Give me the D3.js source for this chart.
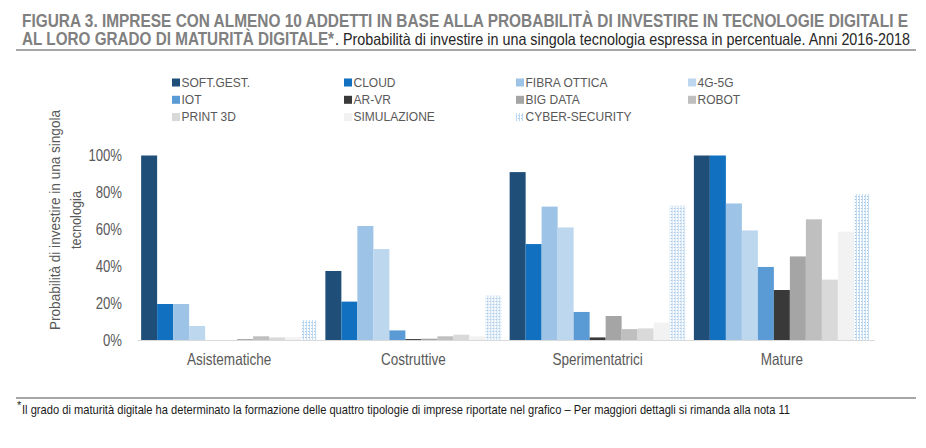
<!DOCTYPE html>
<html><head><meta charset="utf-8">
<script src="https://cdn.jsdelivr.net/npm/d3@7"></script>
<style>
html,body{margin:0;padding:0;background:#fff;}
svg{display:block;}
text{font-family:"Liberation Sans",Arial,sans-serif;}
</style></head>
<body>
<svg id="chart" width="926" height="448"></svg>
<script>
const categories = ["Asistematiche", "Costruttive", "Sperimentatrici", "Mature"];
const seriesNames = ["SOFT.GEST.", "CLOUD", "FIBRA OTTICA", "4G-5G", "IOT", "AR-VR", "BIG DATA", "ROBOT", "PRINT 3D", "SIMULAZIONE", "CYBER-SECURITY"];
const softGest    = [100, 37.4, 91, 100];
const cloud       = [19.5, 20.8, 52, 100];
const fibraOttica = [19.5, 61.8, 72.3, 74];
const g4g5        = [7.6, 49.3, 61, 59.4];
const iot         = [0, 5.2, 15.2, 39.6];
const arVr        = [0, 0.5, 1.4, 27.1];
const bigData     = [0.5, 0.7, 13, 45.3];
const robot       = [2, 2, 5.9, 65.4];
const print3d     = [1.4, 2.9, 6.3, 32.7];
const simulazione = [1.5, 2, 9.4, 58.7];
const cyberSec    = [10.8, 24, 72.8, 79.1];
const yTicks = [0, 20, 40, 60, 80, 100];

const seriesValues = [softGest, cloud, fibraOttica, g4g5, iot, arVr, bigData, robot, print3d, simulazione, cyberSec];
const colors = ["#1F4E79", "#1170BF", "#9DC3E6", "#BDD7EE", "#5B9BD5", "#393939", "#A5A5A5", "#BFBFBF", "#D9D9D9", "#F2F2F2", "url(#dots)"];

const svg = d3.select("#chart");
const defs = svg.append("defs");
const pat = defs.append("pattern").attr("id", "dots").attr("patternUnits", "userSpaceOnUse")
  .attr("width", 3).attr("height", 3);
pat.append("rect").attr("width", 3).attr("height", 3).attr("fill", "#fff");
pat.append("rect").attr("width", 1).attr("height", 3).attr("fill", "#BDD7EE");
pat.append("rect").attr("x", 2).attr("y", 1).attr("width", 1).attr("height", 1).attr("fill", "#9DC3E6");

const NARROW = 0.82;
function condense(sel, ratio) {
  sel.each(function () {
    const w = this.getComputedTextLength();
    d3.select(this).attr("textLength", w * ratio).attr("lengthAdjust", "spacingAndGlyphs");
  });
}

// Title
svg.append("text").attr("x", 22).attr("y", 27).attr("font-size", 17.5).attr("font-weight", "bold")
  .attr("fill", "#808080").attr("textLength", 886).attr("lengthAdjust", "spacingAndGlyphs")
  .text("FIGURA 3. IMPRESE CON ALMENO 10 ADDETTI IN BASE ALLA PROBABILITÀ DI INVESTIRE IN TECNOLOGIE DIGITALI E");
svg.append("text").attr("x", 22).attr("y", 44.5).attr("font-size", 17.5).attr("font-weight", "bold")
  .attr("fill", "#808080").attr("textLength", 312).attr("lengthAdjust", "spacingAndGlyphs")
  .text("AL LORO GRADO DI MATURITÀ DIGITALE*");
svg.append("text").attr("x", 335).attr("y", 44.5).attr("font-size", 16.5)
  .attr("fill", "#262626").attr("textLength", 575).attr("lengthAdjust", "spacingAndGlyphs")
  .text(". Probabilità di investire in una singola tecnologia espressa in percentuale. Anni 2016-2018");
svg.append("line").attr("x1", 16).attr("x2", 916).attr("y1", 50).attr("y2", 50)
  .attr("stroke", "#a6a6a6").attr("stroke-width", 2);

// Legend
const legend = svg.append("g");
seriesNames.forEach((name, i) => {
  const col = i % 4, row = Math.floor(i / 4);
  const gx = 172 + col * 172, gy = 82.5 + row * 17.3;
  const g = legend.append("g").attr("transform", `translate(${gx},${gy})`);
  g.append("rect").attr("x", 0).attr("y", -4).attr("width", 8).attr("height", 8).attr("fill", colors[i]);
  g.append("text").attr("x", 9.5).attr("y", 4.3).attr("font-size", 12).attr("fill", "#595959").text(name);
});

// Scales
const x0 = d3.scaleBand().domain(categories).range([137, 874]).paddingInner(0.0448).paddingOuter(0.0224);
const x1 = d3.scaleBand().domain(seriesNames).range([0, x0.bandwidth()]);
const y = d3.scaleLinear().domain([0, 100]).range([340, 155.5]);

// Bars
const groups = svg.append("g").selectAll("g").data(categories).join("g")
  .attr("transform", d => `translate(${x0(d)},0)`);
groups.selectAll("rect")
  .data((c, ci) => seriesNames.map((s, si) => ({ s, si, v: seriesValues[si][ci] })))
  .join("rect")
  .attr("x", d => x1(d.s))
  .attr("width", x1.bandwidth())
  .attr("y", d => y(d.v))
  .attr("height", d => y(0) - y(d.v))
  .attr("fill", d => colors[d.si]);

// Y axis
const yAxis = svg.append("g").attr("transform", "translate(137,0)")
  .call(d3.axisLeft(y).tickValues(yTicks).tickFormat(d => d + "%").tickSize(0).tickPadding(15));
yAxis.select(".domain").remove();
yAxis.selectAll("text").attr("font-size", 16).attr("fill", "#595959")
  .attr("font-family", "'Liberation Sans',Arial,sans-serif").call(condense, NARROW);

// X axis
const xAxis = svg.append("g").attr("transform", "translate(0,340)")
  .call(d3.axisBottom(x0).tickSize(0).tickPadding(13));
xAxis.select(".domain").attr("stroke", "#d9d9d9").attr("stroke-width", 1.2);
xAxis.selectAll("text").attr("font-size", 16.5).attr("fill", "#595959")
  .attr("font-family", "'Liberation Sans',Arial,sans-serif").call(condense, NARROW);

// Y label
const yl = svg.append("g").attr("transform", "translate(0,220) rotate(-90)");
yl.append("text").attr("x", 0).attr("y", 60).attr("text-anchor", "middle").attr("font-size", 15.5)
  .attr("fill", "#595959").attr("textLength", 220).attr("lengthAdjust", "spacingAndGlyphs")
  .text("Probabilità di investire in una singola");
yl.append("text").attr("x", 0).attr("y", 81).attr("text-anchor", "middle").attr("font-size", 15.5)
  .attr("fill", "#595959").text("tecnologia").call(condense, NARROW);

// Footnote
svg.append("line").attr("x1", 16).attr("x2", 916).attr("y1", 398).attr("y2", 398)
  .attr("stroke", "#a6a6a6").attr("stroke-width", 2);
svg.append("text").attr("x", 17).attr("y", 409).attr("font-size", 11).attr("fill", "#1a1a1a").text("*");
svg.append("text").attr("x", 22).attr("y", 414).attr("font-size", 13.5).attr("fill", "#1a1a1a")
  .attr("textLength", 768).attr("lengthAdjust", "spacingAndGlyphs")
  .text("Il grado di maturità digitale ha determinato la formazione delle quattro tipologie di imprese riportate nel grafico – Per maggiori dettagli si rimanda alla nota 11");
</script>
</body></html>
